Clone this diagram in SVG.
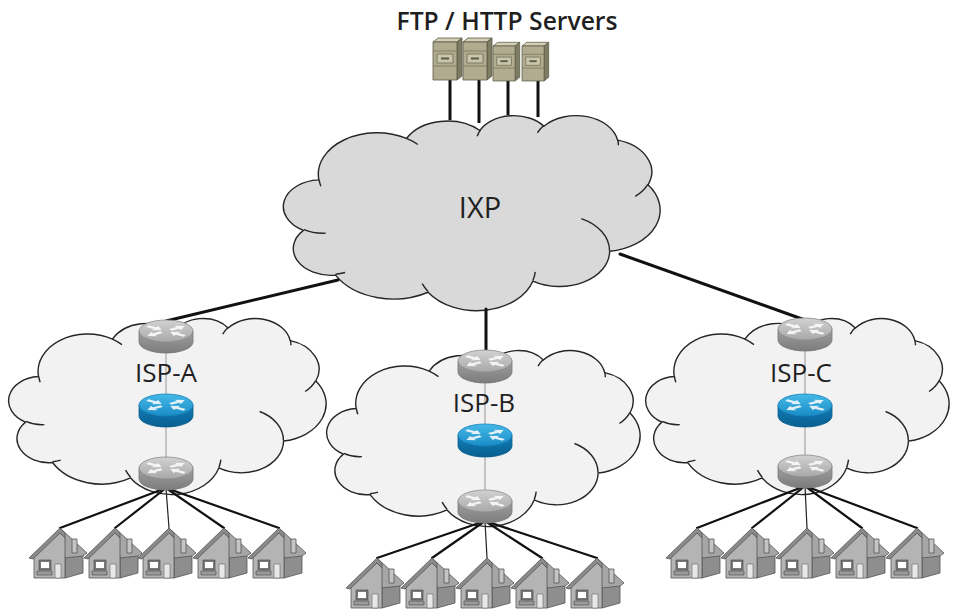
<svg xmlns="http://www.w3.org/2000/svg" xmlns:xlink="http://www.w3.org/1999/xlink" width="954" height="609" viewBox="0 0 954 609">
  <style>
    .cloud { stroke: #262626; stroke-width: 1.4; stroke-linejoin: round; }
    .crease { fill: none; stroke: #262626; stroke-width: 1.4; }
    .ixp-fill { fill: #d9d9d9; }
    .isp-fill { fill: #f2f2f2; }
    .label { font-family: "Open Sans", "Liberation Sans", sans-serif; fill: #1f1f1f; text-anchor: middle; }
    .uplink { stroke: #111; stroke-width: 3; fill: none; stroke-linecap: round; }
    .server-link { stroke: #111; stroke-width: 3; fill: none; }
    .inner { stroke: #c4c4c4; stroke-width: 2; fill: none; }
    .drop { stroke: #111; stroke-width: 2.2; fill: none; stroke-linecap: round; }
    .drop-thin { stroke: #222; stroke-width: 1.2; fill: none; }
  </style>
  <defs>
    <!-- cloud outline in a 43200 x 43200 box -->
    <path id="cloud-outline" vector-effect="non-scaling-stroke" d="M3900,14370 A6753,9190 0 0 1 14004,5199 A5333,7267 0 0 1 22451,3428 A4365,5945 0 0 1 29825,2475 A4857,6595 0 0 1 38313,5568 A5333,7273 0 0 1 41814,15458 A6775,9220 0 0 1 37399,30200 A5785,7867 0 0 1 28549,36809 A6752,9215 0 0 1 16480,39266 A7720,10543 0 0 1 5821,35479 A4360,5918 0 0 1 2125,25563 A4345,5945 0 0 1 3900,14370 Z"/>
    <path id="cloud-creases" vector-effect="non-scaling-stroke" d="M4693,26177 A4345,5945 0 0 1 2172,25388 M6928,34899 A4360,5918 0 0 1 5817,35283 M16478,39090 A6752,9215 0 0 1 15808,37347 M28827,34751 A6752,9215 0 0 1 28559,36667 M34129,22954 A5785,7867 0 0 1 37381,30089 M41798,15354 A5333,7273 0 0 1 40346,18032 M38324,5426 A4857,6595 0 0 1 38401,6687 M29078,3952 A4857,6595 0 0 1 29819,2339 M22141,4720 A4365,5945 0 0 1 22501,3330 M14000,5192 A6753,9190 0 0 1 15302,6542 M4127,15789 A6753,9190 0 0 1 3930,14373"/>

    <linearGradient id="gray-top" x1="0" y1="0" x2="0" y2="1">
      <stop offset="0" stop-color="#d2d2d2"/>
      <stop offset="1" stop-color="#a8a8a8"/>
    </linearGradient>
    <linearGradient id="gray-side" x1="0" y1="0" x2="0" y2="1">
      <stop offset="0" stop-color="#a0a0a0"/>
      <stop offset="1" stop-color="#7c7c7c"/>
    </linearGradient>
    <linearGradient id="blue-top" x1="0" y1="0" x2="0" y2="1">
      <stop offset="0" stop-color="#45b9e8"/>
      <stop offset="1" stop-color="#1a8cc6"/>
    </linearGradient>
    <linearGradient id="blue-side" x1="0" y1="0" x2="0" y2="1">
      <stop offset="0" stop-color="#137db8"/>
      <stop offset="1" stop-color="#085f90"/>
    </linearGradient>

    <!-- router arrows, drawn flat then squashed onto the top face -->
    <g id="router-arrows" transform="translate(0,11) scale(1,0.42)" fill="#ffffff" opacity="0.85">
      <polygon transform="rotate(-32)" points="5,-2.2 14,-2.2 14,-6 22,0 14,6 14,2.2 5,2.2"/>
      <polygon transform="rotate(148)" points="5,-2.2 14,-2.2 14,-6 22,0 14,6 14,2.2 5,2.2"/>
      <polygon transform="rotate(-148)" points="22,-2.2 13,-2.2 13,-6 5,0 13,6 13,2.2 22,2.2"/>
      <polygon transform="rotate(32)" points="22,-2.2 13,-2.2 13,-6 5,0 13,6 13,2.2 22,2.2"/>
    </g>

    <g id="router-gray">
      <path d="M-27,11 V22 A27,11 0 0 0 27,22 V11 Z" fill="url(#gray-side)" stroke="#777" stroke-width="0.8"/>
      <ellipse cx="0" cy="11" rx="27" ry="11" fill="url(#gray-top)" stroke="#8a8a8a" stroke-width="0.8"/>
      <use href="#router-arrows"/>
    </g>
    <g id="router-blue">
      <path d="M-27,11 V22 A27,11 0 0 0 27,22 V11 Z" fill="url(#blue-side)" stroke="#0a5f8c" stroke-width="0.8"/>
      <ellipse cx="0" cy="11" rx="27" ry="11" fill="url(#blue-top)" stroke="#1780b8" stroke-width="0.8"/>
      <use href="#router-arrows"/>
    </g>

    <!-- home icon, origin at the roof peak -->
    <g id="house" stroke="#555" stroke-width="0.8" stroke-linejoin="round">
      <polygon points="5,27 23,25 23,45 5,50" fill="#8e8e8e"/>
      <polygon points="0,0 27,25 23,28 5,30" fill="#a6a6a6"/>
      <rect x="12" y="11" width="5" height="14" fill="#c4c4c4"/>
      <polygon points="-26,28 -1,4 5,10 5,50 -26,50" fill="#b4b4b4"/>
      <polygon points="-31,30 0,0 5,5 5,10 0,5 -27,31" fill="#8a8a8a"/>
      <rect x="-21" y="32" width="12" height="10" fill="#7a7a7a" stroke="#444" stroke-width="0.6"/>
      <rect x="-19" y="34" width="8" height="6" fill="#ffffff" stroke="none"/>
      <rect x="-23" y="43" width="15" height="4" fill="#9a9a9a" stroke="#444" stroke-width="0.6"/>
      <rect x="-5" y="36" width="6" height="14" fill="#e8e8e8" stroke="#666" stroke-width="0.6"/>
    </g>

    <!-- tower server, origin at top-left of the front panel -->
    <g id="tower" stroke="#5a5846" stroke-width="0.8" stroke-linejoin="round">
      <polygon points="0,0 5,-4 29,-4 24,0" fill="#d3cfb6"/>
      <polygon points="24,0 29,-4 29,34 24,38" fill="#7f7c64"/>
      <rect x="0" y="0" width="24" height="38" fill="#b1ac90"/>
      <line x1="0" y1="9" x2="24" y2="9" stroke="#77745d"/>
      <line x1="0" y1="24" x2="24" y2="24" stroke="#77745d"/>
      <rect x="4" y="12" width="16" height="9" fill="#c9c5ab" stroke="#6e6b55"/>
      <rect x="8" y="15.5" width="8" height="2" fill="#5c5a48" stroke="none"/>
    </g>
  </defs>

  <!-- title -->
  <text class="label" x="507" y="30" font-size="25" font-weight="600" textLength="221" lengthAdjust="spacingAndGlyphs">FTP / HTTP Servers</text>

  <!-- exchange point cloud -->
  <g id="ixp">
    <g transform="translate(285,115) scale(0.0086806,0.0045139)">
      <use href="#cloud-outline" class="cloud ixp-fill"/>
      <use href="#cloud-creases" class="crease"/>
    </g>
    <text class="label" x="480" y="218" font-size="29">IXP</text>
  </g>

  <!-- provider clouds -->
  <g id="isp-a">
    <g transform="translate(10,318) scale(0.0073148,0.0040741)">
      <use href="#cloud-outline" class="cloud isp-fill"/>
      <use href="#cloud-creases" class="crease"/>
    </g>
  </g>
  <g id="isp-b">
    <g transform="translate(328,350) scale(0.0072222,0.0040741)">
      <use href="#cloud-outline" class="cloud isp-fill"/>
      <use href="#cloud-creases" class="crease"/>
    </g>
  </g>
  <g id="isp-c">
    <g transform="translate(647,318) scale(0.0069907,0.0040741)">
      <use href="#cloud-outline" class="cloud isp-fill"/>
      <use href="#cloud-creases" class="crease"/>
    </g>
  </g>

  <!-- links -->
  <g id="connectors">
    <line class="server-link" x1="450" y1="80" x2="450" y2="120"/>
    <line class="server-link" x1="479" y1="80" x2="479" y2="123"/>
    <line class="server-link" x1="508" y1="80" x2="508" y2="115"/>
    <line class="server-link" x1="538" y1="80" x2="538" y2="117"/>

    <line class="uplink" x1="338" y1="280" x2="166" y2="321"/>
    <line class="uplink" x1="486" y1="309" x2="486" y2="351"/>
    <line class="uplink" x1="620" y1="254" x2="805" y2="320"/>

    <line class="inner" x1="166" y1="335" x2="166" y2="470"/>
    <line class="inner" x1="485" y1="365" x2="485" y2="503"/>
    <line class="inner" x1="805" y1="333" x2="805" y2="468"/>

    <line class="drop" x1="166" y1="488" x2="60" y2="528"/>
    <line class="drop" x1="166" y1="488" x2="115" y2="528"/>
    <line class="drop-thin" x1="166" y1="488" x2="169" y2="528"/>
    <line class="drop" x1="166" y1="488" x2="224" y2="528"/>
    <line class="drop" x1="166" y1="488" x2="279" y2="528"/>

    <line class="drop" x1="485" y1="521" x2="377" y2="558"/>
    <line class="drop" x1="485" y1="521" x2="432" y2="558"/>
    <line class="drop-thin" x1="485" y1="521" x2="487" y2="558"/>
    <line class="drop" x1="485" y1="521" x2="542" y2="558"/>
    <line class="drop" x1="485" y1="521" x2="597" y2="558"/>

    <line class="drop" x1="805" y1="486" x2="697" y2="528"/>
    <line class="drop" x1="805" y1="486" x2="752" y2="528"/>
    <line class="drop-thin" x1="805" y1="486" x2="807" y2="528"/>
    <line class="drop" x1="805" y1="486" x2="862" y2="528"/>
    <line class="drop" x1="805" y1="486" x2="917" y2="528"/>
  </g>

  <!-- provider labels -->
  <text class="label" x="166" y="382" font-size="26">ISP-A</text>
  <text class="label" x="484" y="412" font-size="26">ISP-B</text>
  <text class="label" x="801" y="382" font-size="26">ISP-C</text>

  <!-- servers -->
  <g id="server-1"><use href="#tower" transform="translate(433,42)"/></g>
  <g id="server-2"><use href="#tower" transform="translate(463,42)"/></g>
  <g id="server-3"><use href="#tower" transform="translate(493,46) scale(0.92)"/></g>
  <g id="server-4"><use href="#tower" transform="translate(522,46) scale(0.92)"/></g>

  <!-- ISP-A routers -->
  <g id="isp-a-edge"><use href="#router-gray" x="166" y="320"/></g>
  <g id="isp-a-core"><use href="#router-blue" x="166" y="394"/></g>
  <g id="isp-a-access"><use href="#router-gray" x="166" y="457"/></g>

  <!-- ISP-B routers -->
  <g id="isp-b-edge"><use href="#router-gray" x="485" y="350"/></g>
  <g id="isp-b-core"><use href="#router-blue" x="485" y="424"/></g>
  <g id="isp-b-access"><use href="#router-gray" x="485" y="490"/></g>

  <!-- ISP-C routers -->
  <g id="isp-c-edge"><use href="#router-gray" x="805" y="318"/></g>
  <g id="isp-c-core"><use href="#router-blue" x="805" y="394"/></g>
  <g id="isp-c-access"><use href="#router-gray" x="805" y="455"/></g>

  <!-- homes -->
  <g id="home-a1"><use href="#house" x="60" y="528"/></g>
  <g id="home-a2"><use href="#house" x="115" y="528"/></g>
  <g id="home-a3"><use href="#house" x="169" y="528"/></g>
  <g id="home-a4"><use href="#house" x="224" y="528"/></g>
  <g id="home-a5"><use href="#house" x="279" y="528"/></g>

  <g id="home-b1"><use href="#house" x="377" y="558"/></g>
  <g id="home-b2"><use href="#house" x="432" y="558"/></g>
  <g id="home-b3"><use href="#house" x="487" y="558"/></g>
  <g id="home-b4"><use href="#house" x="542" y="558"/></g>
  <g id="home-b5"><use href="#house" x="597" y="558"/></g>

  <g id="home-c1"><use href="#house" x="697" y="528"/></g>
  <g id="home-c2"><use href="#house" x="752" y="528"/></g>
  <g id="home-c3"><use href="#house" x="807" y="528"/></g>
  <g id="home-c4"><use href="#house" x="862" y="528"/></g>
  <g id="home-c5"><use href="#house" x="917" y="528"/></g>
</svg>
